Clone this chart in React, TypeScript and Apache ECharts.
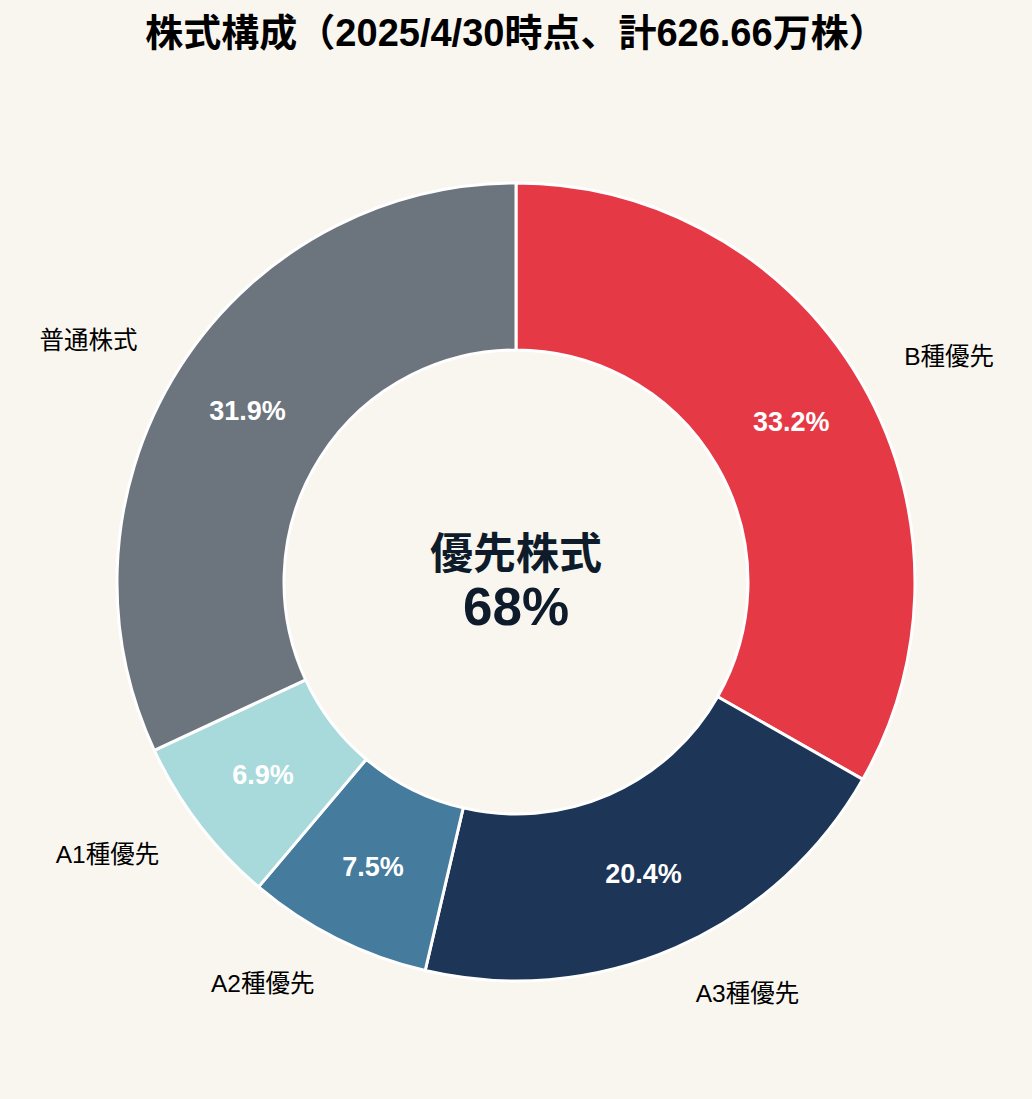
import React, { useEffect, useRef } from "react";
import * as echarts from "echarts";

const categories = ["B種優先", "A3種優先", "A2種優先", "A1種優先", "普通株式"];
const shares = [33.2, 20.4, 7.5, 6.9, 31.9];
const colors = ["#E63946", "#1D3557", "#457B9D", "#A8DADC", "#6C757D"];
const titleText = "株式構成（2025/4/30時点、計626.66万株）";
const centerLine1 = "優先株式";
const centerLine2 = "68%";

const FONT = "'Liberation Sans', 'Noto Sans CJK JP', sans-serif";

export default function App() {
  const ref = useRef<HTMLDivElement>(null);
  useEffect(() => {
    document.body.style.margin = "0";
    const chart = echarts.init(ref.current!, null, { renderer: "svg" });
    const data = categories.map((name, i) => ({
      name,
      value: shares[i],
      itemStyle: { color: colors[i] },
    }));
    chart.setOption({
      animation: false,
      backgroundColor: "#F9F6F0",
      title: {
        text: titleText,
        left: "center",
        top: 9,
        textStyle: { fontFamily: FONT, fontSize: 38, fontWeight: "bold", color: "#000" },
      },
      graphic: [
        {
          type: "text",
          x: 516,
          y: 554,
          style: {
            text: centerLine1,
            font: `bold 43px ${FONT}`,
            fill: "#0D1B2A",
            textAlign: "center",
            textVerticalAlign: "middle",
          },
        },
        {
          type: "text",
          x: 516,
          y: 606,
          style: {
            text: centerLine2,
            font: `bold 53px ${FONT}`,
            fill: "#0D1B2A",
            textAlign: "center",
            textVerticalAlign: "middle",
          },
        },
      ],
      series: [
        {
          type: "pie",
          center: [516, 582],
          radius: [232, 399],
          startAngle: 90,
          clockwise: true,
          avoidLabelOverlap: false,
          itemStyle: { borderColor: "#FFFFFF", borderWidth: 3 },
          label: {
            show: true,
            position: "inside",
            formatter: (p: any) => `${p.value.toFixed(1)}%`,
            color: "#FFFFFF",
            fontFamily: FONT,
            fontSize: 27,
            fontWeight: "bold",
          },
          labelLine: { show: false },
          emphasis: { disabled: true },
          data,
        },
        {
          type: "pie",
          center: [516, 582],
          radius: [232, 398],
          startAngle: 90,
          clockwise: true,
          silent: true,
          avoidLabelOverlap: false,
          itemStyle: { color: "transparent", borderWidth: 0 },
          label: {
            show: true,
            position: "outside",
            formatter: "{b}",
            color: "#000000",
            fontFamily: FONT,
            fontSize: 24.5,
            distanceToLabelLine: 0,
          },
          labelLine: { show: false, length: 51, length2: 0 },
          emphasis: { disabled: true },
          data: categories.map((name, i) => ({ name, value: shares[i] })),
        },
      ],
    });
    return () => chart.dispose();
  }, []);
  return <div ref={ref} style={{ width: 1032, height: 1099 }} />;
}
